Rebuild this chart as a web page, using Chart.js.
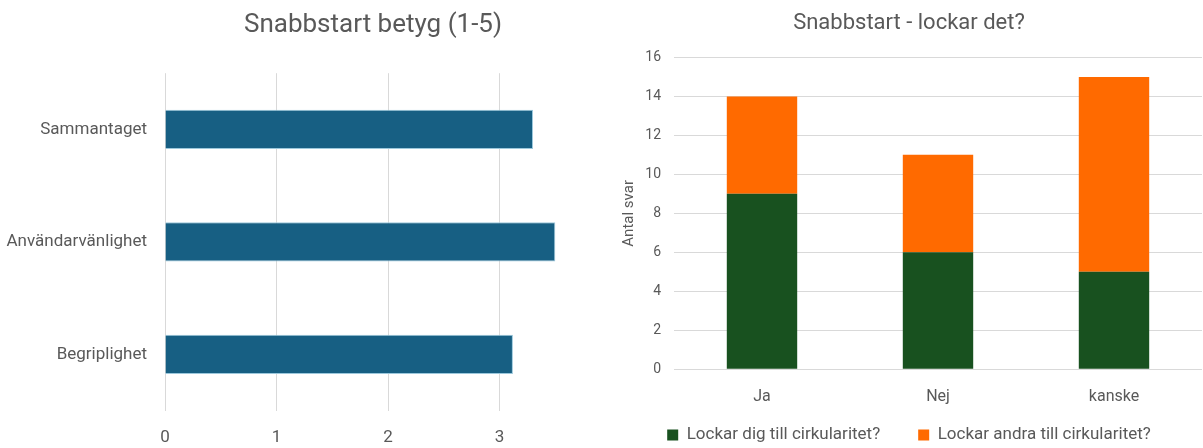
<!DOCTYPE html>
<html>
<head>
<meta charset="utf-8">
<script src="https://cdn.jsdelivr.net/npm/chart.js@4.4.1/dist/chart.umd.min.js"></script>
<style>
  body { margin: 0; background: #fff; }
  .wrap { position: absolute; top: 0; height: 448px; overflow: hidden; }
  #left { left: 0; width: 600px; }
  #right { left: 600px; width: 603px; }
</style>
</head>
<body>
<div class="wrap" id="left"><canvas id="betygCanvas" width="746" height="448"></canvas></div>
<div class="wrap" id="right"><canvas id="lockarCanvas" width="620" height="448"></canvas></div>
<script>
// data
var betygKategorier = ['Sammantaget', 'Användarvänlighet', 'Begriplighet'];
var betygVarden = [3.3, 3.5, 3.12];

var lockarKategorier = ['Ja', 'Nej', 'kanske'];
var lockarDig = [9, 6, 5];
var lockarAndra = [5, 5, 10];
var lockarSerier = ['Lockar dig till cirkularitet?', 'Lockar andra till cirkularitet?'];

var grey = '#595959';
var gridGrey = '#d9d9d9';
var font = "Roboto, 'Liberation Sans', sans-serif";

// the left chart is cut off at 600px in the picture; the axis runs on past the crop
var betygChart = new Chart(document.getElementById('betygCanvas'), {
    type: 'bar',
    data: {
        labels: betygKategorier,
        datasets: [{
            data: betygVarden,
            backgroundColor: '#175f83',
            borderColor: '#9cc8dc',
            borderWidth: 1,
            barPercentage: 0.35,
            categoryPercentage: 1
        }]
    },
    options: {
        indexAxis: 'y',
        responsive: false,
        animation: false,
        layout: { padding: { left: 0, right: 0, top: 0, bottom: -17 } },
        plugins: {
            legend: { display: false },
            tooltip: { enabled: false },
            title: {
                display: true,
                text: 'Snabbstart betyg (1-5)',
                color: grey,
                font: { family: font, size: 26, weight: 'normal' },
                padding: { top: 10, bottom: 32 }
            }
        },
        scales: {
            x: {
                min: 0,
                max: 5.21,
                ticks: { stepSize: 1, color: grey, padding: 17, font: { family: font, size: 17 } },
                grid: { color: gridGrey, drawTicks: false },
                border: { display: false },
                afterBuildTicks: function (scale) {
                    scale.ticks = scale.ticks.filter(function (t) { return Number.isInteger(t.value); });
                }
            },
            y: {
                ticks: { color: grey, padding: 18, font: { family: font, size: 17 } },
                grid: { display: false, drawTicks: false },
                border: { display: false },
                afterFit: function (scale) { scale.width = 165; }
            }
        }
    }
});

var lockarChart = new Chart(document.getElementById('lockarCanvas'), {
    type: 'bar',
    data: {
        labels: lockarKategorier,
        datasets: [
            {
                label: lockarSerier[0],
                data: lockarDig,
                backgroundColor: '#18511f',
                barPercentage: 0.4,
                categoryPercentage: 1
            },
            {
                label: lockarSerier[1],
                data: lockarAndra,
                backgroundColor: '#ff6a00',
                barPercentage: 0.4,
                categoryPercentage: 1
            }
        ]
    },
    options: {
        responsive: false,
        animation: false,
        layout: { padding: { left: 16, right: 18, top: 0, bottom: -5.5 } },
        plugins: {
            tooltip: { enabled: false },
            title: {
                display: true,
                text: 'Snabbstart - lockar det?',
                color: grey,
                font: { family: font, size: 22, weight: 'normal' },
                padding: { top: 10, bottom: 21 }
            },
            legend: {
                position: 'bottom',
                labels: {
                    color: grey,
                    boxWidth: 11,
                    boxHeight: 11,
                    padding: 38,
                    font: { family: font, size: 17 }
                }
            }
        },
        scales: {
            x: {
                stacked: true,
                // mirror keeps the labels from being clipped to the short axis box
                ticks: { mirror: true, color: grey, padding: -37.3, font: { family: font, size: 16 } },
                grid: { display: false, drawTicks: false },
                border: { display: false },
                afterFit: function (scale) { scale.height = 19.2; }
            },
            y: {
                stacked: true,
                min: 0,
                max: 16,
                ticks: { stepSize: 2, color: grey, padding: 13, font: { family: font, size: 14 } },
                grid: { color: gridGrey, drawTicks: false },
                border: { display: false },
                title: {
                    display: true,
                    text: 'Antal svar',
                    color: grey,
                    font: { family: font, size: 15 },
                    padding: { top: 4, bottom: 0 }
                },
                afterFit: function (scale) { scale.width = 58; }
            }
        }
    }
});
</script>
</body>
</html>
